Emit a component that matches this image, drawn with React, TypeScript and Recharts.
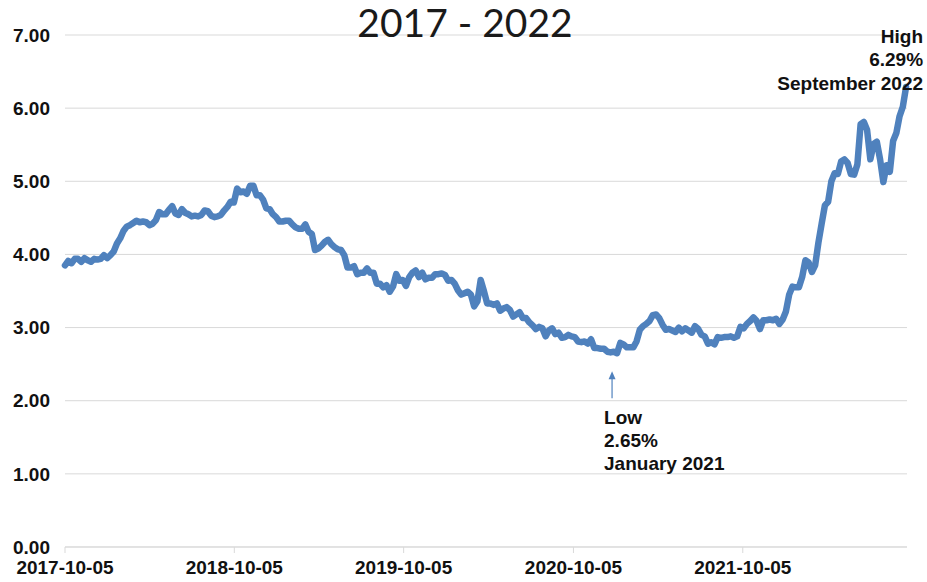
import React from 'react';
import { LineChart, Line, XAxis, YAxis, CartesianGrid, ReferenceDot } from 'recharts';

// weekly 30-year fixed rate, first week 2017-10-05
const startDate = '2017-10-05';

const rates2017 = [3.85, 3.91, 3.88, 3.94, 3.94, 3.9, 3.95, 3.92, 3.9, 3.94, 3.93, 3.94, 3.99];
const rates2018 = [
  3.95, 3.99, 4.04, 4.15, 4.22, 4.32, 4.38, 4.4, 4.43, 4.46, 4.44, 4.45, 4.44,
  4.4, 4.42, 4.47, 4.58, 4.55, 4.55, 4.61, 4.66, 4.56, 4.54, 4.62, 4.57, 4.55,
  4.52, 4.53, 4.52, 4.54, 4.6, 4.59, 4.53, 4.51, 4.52, 4.54, 4.6, 4.65, 4.72,
  4.71, 4.9, 4.85, 4.86, 4.83, 4.94, 4.94, 4.81, 4.81, 4.75, 4.63, 4.62, 4.55,
];
const rates2019 = [
  4.51, 4.45, 4.45, 4.46, 4.46, 4.41, 4.37, 4.35, 4.35, 4.41, 4.31, 4.28, 4.06,
  4.08, 4.12, 4.17, 4.2, 4.14, 4.1, 4.07, 4.06, 3.99, 3.82, 3.82, 3.84, 3.73,
  3.75, 3.75, 3.81, 3.75, 3.75, 3.6, 3.6, 3.55, 3.58, 3.49, 3.56, 3.73, 3.64,
  3.65, 3.57, 3.69, 3.75, 3.78, 3.69, 3.75, 3.66, 3.68, 3.68, 3.73, 3.73, 3.74,
];
const rates2020 = [
  3.72, 3.64, 3.65, 3.6, 3.51, 3.45, 3.47, 3.49, 3.45, 3.29, 3.36, 3.65, 3.5,
  3.33, 3.33, 3.31, 3.33, 3.23, 3.26, 3.28, 3.24, 3.15, 3.18, 3.21, 3.13, 3.13,
  3.07, 3.03, 2.98, 3.01, 2.99, 2.88, 2.96, 2.99, 2.91, 2.93, 2.86, 2.87, 2.9,
  2.88, 2.87, 2.81, 2.8, 2.81, 2.78, 2.84, 2.72, 2.72, 2.71, 2.71, 2.67, 2.66, 2.67,
];
const rates2021 = [
  2.65, 2.79, 2.77, 2.73, 2.73, 2.73, 2.81, 2.97, 3.02, 3.05, 3.09, 3.17, 3.18,
  3.13, 3.04, 2.97, 2.98, 2.96, 2.94, 3.0, 2.95, 2.99, 2.96, 2.93, 3.02, 2.98,
  2.9, 2.88, 2.78, 2.8, 2.77, 2.87, 2.86, 2.87, 2.87, 2.88, 2.86, 2.88, 3.01,
  2.99, 3.05, 3.09, 3.14, 3.09, 2.98, 3.1, 3.1, 3.11, 3.1, 3.12, 3.05, 3.11,
];
const rates2022 = [
  3.22, 3.45, 3.56, 3.55, 3.55, 3.69, 3.92, 3.89, 3.76, 3.85, 4.16, 4.42, 4.67,
  4.72, 5.0, 5.11, 5.1, 5.27, 5.3, 5.25, 5.1, 5.09, 5.23, 5.78, 5.81, 5.7,
  5.3, 5.51, 5.54, 5.3, 4.99, 5.22, 5.13, 5.55, 5.66, 5.89, 6.02, 6.29,
];

const tickDates = ['2017-10-05', '2018-10-05', '2019-10-05', '2020-10-05', '2021-10-05'];
const yTicks = [0, 1, 2, 3, 4, 5, 6, 7];
const endDate = '2022-09-24';

const lowPoint = { date: '2021-01-07', rate: 2.65, lines: ['Low', '2.65%', 'January 2021'] };
const highPoint = { date: '2022-09-22', rate: 6.29, lines: ['High', '6.29%', 'September 2022'] };

const DAY = 86400000;
const toTime = (d: string) => Date.parse(d + 'T00:00:00Z');
const fmtDate = (t: number) => new Date(t).toISOString().slice(0, 10);

const rates = [...rates2017, ...rates2018, ...rates2019, ...rates2020, ...rates2021, ...rates2022];
const data = rates.map((rate, i) => ({ t: toTime(startDate) + i * 7 * DAY, rate }));

const FONT = '"Liberation Sans", Arial, sans-serif';
const BLUE = '#4F81BD';
const tickStyle = { fontFamily: FONT, fontSize: 19, fontWeight: 700, fill: '#111' };

function LowMarker(props: any) {
  const { cx, cy } = props;
  const ax = cx - 5;
  return (
    <g>
      <line x1={ax} y1={cy + 24} x2={ax} y2={cy + 45} stroke={BLUE} strokeWidth={1.2} />
      <path d={`M${ax - 3.5},${cy + 26} L${ax},${cy + 18} L${ax + 3.5},${cy + 26} Z`} fill={BLUE} />
      {lowPoint.lines.map((s, i) => (
        <text key={s} x={cx - 13} y={cy + 71 + i * 23} {...tickStyle} textAnchor="start">
          {s}
        </text>
      ))}
    </g>
  );
}

function HighMarker(props: any) {
  const { cx, cy } = props;
  return (
    <g>
      {highPoint.lines.map((s, i) => (
        <text key={s} x={cx + 17} y={cy - 44 + i * 23.5} {...tickStyle} textAnchor="end">
          {s}
        </text>
      ))}
    </g>
  );
}

export default function App() {
  return (
    <div style={{ position: 'absolute', left: 0, top: 0, width: 927, height: 582, background: '#fff' }}>
      <LineChart width={927} height={582} data={data} margin={{ top: 35, right: 20, bottom: 5, left: 0 }}>
        <CartesianGrid vertical={false} stroke="#d9d9d9" />
        <XAxis
          dataKey="t"
          type="number"
          domain={[toTime(startDate), toTime(endDate)]}
          ticks={tickDates.map(toTime)}
          tickFormatter={fmtDate}
          height={30}
          stroke="#d9d9d9"
          tickSize={6}
          tickMargin={8}
          tick={tickStyle}
          interval={0}
        />
        <YAxis
          domain={[0, 7]}
          ticks={yTicks}
          tickFormatter={(v: number) => v.toFixed(2)}
          width={65}
          axisLine={false}
          tickLine={false}
          tickSize={6}
          tickMargin={9}
          tick={tickStyle}
        />
        <Line
          type="linear"
          dataKey="rate"
          stroke={BLUE}
          strokeWidth={6.5}
          strokeLinejoin="round"
          strokeLinecap="round"
          dot={false}
          isAnimationActive={false}
        />
        <ReferenceDot x={toTime(lowPoint.date)} y={lowPoint.rate} ifOverflow="visible" shape={LowMarker} />
        <ReferenceDot x={toTime(highPoint.date)} y={highPoint.rate} ifOverflow="visible" shape={HighMarker} />
      </LineChart>
      <div
        style={{
          position: 'absolute',
          left: 0,
          top: 3,
          width: 930,
          textAlign: 'center',
          fontFamily: 'Lato, "Open Sans", sans-serif',
          fontSize: 39,
          lineHeight: '39px',
          color: '#1a1a1a',
        }}
      >
        2017 - 2022
      </div>
    </div>
  );
}
